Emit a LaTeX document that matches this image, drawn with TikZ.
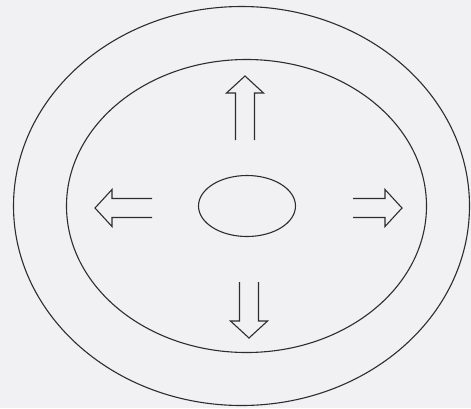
\documentclass[tikz,border=0pt]{standalone}
\usepackage{tikz}
\usetikzlibrary{shapes.geometric}
\definecolor{bgGray}{RGB}{241,241,244}
\definecolor{lineGray}{RGB}{45,45,45}

% hollow double arrow: tip, rotation, shaft length
\newcommand{\hollowarrow}[3]{%
  \draw[arrowline, shift={#1}, rotate=#2]
    (-9.5,#3+17) -- (-9.5,17) -- (-18.5,17) -- (0,0) -- (18.5,17) -- (9.5,17) -- (9.5,#3+17);}

\begin{document}
\begin{tikzpicture}[
    x=1pt, y=-1pt,
    ring/.style={ellipse,draw=lineGray,line width=1.1pt,inner sep=0pt},
    arrowline/.style={draw=lineGray,line width=1.1pt,line join=miter}
]
\fill[bgGray] (0,0) rectangle (471,408);
\useasboundingbox (0,0) rectangle (471,408);

% rings
\node[ring, minimum width=456pt, minimum height=399pt] (outer) at (241.5,206) {};
\node[ring, minimum width=360pt, minimum height=293pt] (inner) at (246.5,206) {};
\node[ring, minimum width=97pt, minimum height=61pt] (core) at (247,206) {};

% arrows
\hollowarrow{(245,76)}{0}{47}
\hollowarrow{(249,338)}{180}{39}
\hollowarrow{(95,208)}{90}{40}
\hollowarrow{(402,208)}{-90}{32}
\end{tikzpicture}
\end{document}
